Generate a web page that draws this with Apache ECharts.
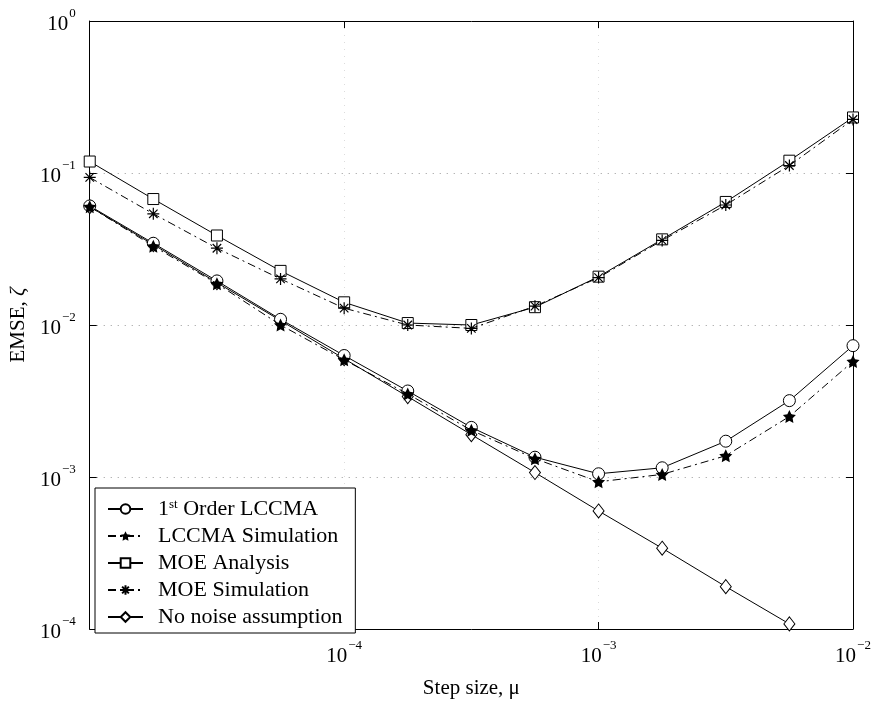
<!DOCTYPE html>
<html>
<head>
<meta charset="utf-8">
<script src="https://cdn.jsdelivr.net/npm/echarts@6/dist/echarts.min.js"></script>
<style>
html,body{margin:0;padding:0;background:#fff;}
#chart{width:875px;height:704px;}
</style>
</head>
<body>
<div id="chart"></div>
<script>
// Step sizes (quarter-decade points)
const stepSizes = [1e-5, 1.778e-5, 3.162e-5, 5.623e-5, 1e-4, 1.778e-4, 3.162e-4, 5.623e-4, 1e-3, 1.778e-3, 3.162e-3, 5.623e-3, 1e-2];
const lccmaAnalysis = [0.0607, 0.0345, 0.0195, 0.0109, 0.0063, 0.00368, 0.00212, 0.00135, 0.00105, 0.00115, 0.00172, 0.00318, 0.00731];
const lccmaSimulation = [0.0600, 0.0330, 0.0187, 0.0100, 0.0059, 0.00352, 0.00203, 0.00132, 0.00093, 0.00104, 0.00138, 0.00250, 0.00576];
const moeAnalysis = [0.119, 0.0674, 0.0388, 0.0227, 0.0141, 0.0103, 0.0100, 0.0131, 0.0208, 0.0366, 0.0645, 0.1205, 0.232];
const moeSimulation = [0.0935, 0.0539, 0.0320, 0.0201, 0.0129, 0.0100, 0.0095, 0.0133, 0.0205, 0.0360, 0.0616, 0.112, 0.225];
const noNoise = [0.0600, 0.0338, 0.0190, 0.0107, 0.0060, 0.00338, 0.00190, 0.00107, 0.000598, 0.00034, 0.00019, 0.000108];
const seriesNames = ['1st Order LCCMA', 'LCCMA Simulation', 'MOE Analysis', 'MOE Simulation', 'No noise assumption'];

const FONT = 'Liberation Serif';
const pairs = (ys) => ys.map((y, i) => [stepSizes[i], y]);
const starPath = 'path://M0,-10L2.94,-4.05L9.51,-3.09L4.76,1.55L5.88,8.09L0,5L-5.88,8.09L-4.76,1.55L-9.51,-3.09L-2.94,-4.05Z';
const asteriskPath = 'path://M0,-10L0,10M-10,0L10,0M-7.07,-7.07L7.07,7.07M-7.07,7.07L7.07,-7.07';

function powLabel(v) {
  const e = Math.round(Math.log10(v));
  const s = e < 0 ? '\u2212' + (-e) : String(e);
  return '{b|10}{s|' + s + '}';
}
const tickRich = {
  b: {fontSize: 21, fontFamily: FONT, color: '#000', lineHeight: 28, verticalAlign: 'bottom'},
  s: {fontSize: 13, fontFamily: FONT, color: '#000', verticalAlign: 'top', padding: [0, 0, 0, 1]}
};

const openStyle = {color: '#fff', borderColor: '#000', borderWidth: 1};
const lineSolid = {color: '#000', width: 1, type: 'solid'};
const lineDashDot = {color: '#000', width: 1, type: [8, 4, 2, 4]};

const chart = echarts.init(document.getElementById('chart'), null, {renderer: 'canvas'});
chart.setOption({
  backgroundColor: '#fff',
  animation: false,
  grid: {left: 88, right: 22, top: 21, bottom: 65, containLabel: false},
  xAxis: [{
    type: 'log', logBase: 10, min: 1e-5, max: 1e-2, splitNumber: 3,
    name: 'Step size, \u03bc', nameLocation: 'middle', nameGap: 49,
    nameTextStyle: {fontSize: 21, fontFamily: FONT, color: '#000'},
    axisLine: {lineStyle: {color: '#000', width: 1}},
    axisTick: {inside: true, length: 7, lineStyle: {color: '#000'}},
    minorTick: {show: false},
    axisLabel: {showMinLabel: false, margin: 10, formatter: powLabel, rich: tickRich},
    splitLine: {show: true, lineStyle: {color: '#dcdcdc', type: [1, 6], width: 1}}
  }, {
    type: 'log', logBase: 10, min: 1e-5, max: 1e-2, splitNumber: 3, position: 'top',
    axisLine: {lineStyle: {color: '#000', width: 1}},
    axisTick: {inside: true, length: 7, lineStyle: {color: '#000'}},
    axisLabel: {show: false}, splitLine: {show: false}
  }],
  yAxis: [{
    type: 'log', logBase: 10, min: 1e-4, max: 1, splitNumber: 4,
    name: '{n|EMSE, }{i|\u03b6}', nameLocation: 'middle', nameGap: 45,
    nameTextStyle: {rich: {
      n: {fontSize: 21, fontFamily: FONT, color: '#000'},
      i: {fontSize: 21, fontFamily: FONT, color: '#000', fontStyle: 'italic'}
    }},
    axisLine: {lineStyle: {color: '#000', width: 1}},
    axisTick: {inside: true, length: 7, lineStyle: {color: '#000'}},
    axisLabel: {margin: 14, formatter: powLabel, rich: tickRich},
    splitLine: {show: true, lineStyle: {color: '#999', type: [1, 6], width: 1}}
  }, {
    type: 'log', logBase: 10, min: 1e-4, max: 1, splitNumber: 4, position: 'right',
    axisLine: {lineStyle: {color: '#000', width: 1}},
    axisTick: {inside: true, length: 7, lineStyle: {color: '#000'}},
    axisLabel: {show: false}, splitLine: {show: false}
  }],
  legend: {
    orient: 'vertical', left: 95, top: 488,
    padding: [10, 10, 5, 12], itemGap: 5, itemWidth: 35, itemHeight: 12,
    backgroundColor: '#fff', borderColor: '#000', borderWidth: 1, borderRadius: 0,
    data: seriesNames,
    formatter: function (name) {
      if (name === seriesNames[0]) return '{t|1}{s|st}{t| Order LCCMA}{sp|\u00a0}';
      return '{t|' + name + '}{sp|\u00a0}';
    },
    textStyle: {
      padding: [0, 0, 0, 10],
      rich: {
        t: {fontSize: 22, fontFamily: FONT, color: '#000', lineHeight: 22},
        s: {fontSize: 13, fontFamily: FONT, color: '#000', verticalAlign: 'top'},
        sp: {fontSize: 10, padding: [0, 14, 0, 0]}
      }
    }
  },
  series: [
    {name: seriesNames[4], type: 'line', data: pairs(noNoise), symbol: 'diamond', symbolSize: [11, 14],
     showAllSymbol: true, itemStyle: openStyle, lineStyle: lineSolid, z: 2},
    {name: seriesNames[0], type: 'line', data: pairs(lccmaAnalysis), symbol: 'circle', symbolSize: 12,
     showAllSymbol: true, itemStyle: openStyle, lineStyle: lineSolid, z: 3},
    {name: seriesNames[1], type: 'line', data: pairs(lccmaSimulation), symbol: starPath, symbolSize: 13,
     showAllSymbol: true, itemStyle: {color: '#000', borderColor: '#000', borderWidth: 0}, lineStyle: lineDashDot, z: 4},
    {name: seriesNames[2], type: 'line', data: pairs(moeAnalysis), symbol: 'rect', symbolSize: 11,
     showAllSymbol: true, itemStyle: openStyle, lineStyle: lineSolid, z: 3},
    {name: seriesNames[3], type: 'line', data: pairs(moeSimulation), symbol: asteriskPath, symbolSize: 12,
     showAllSymbol: true, itemStyle: {color: '#000', borderColor: '#000', borderWidth: 1.2}, lineStyle: lineDashDot, z: 4}
  ]
});
</script>
</body>
</html>
